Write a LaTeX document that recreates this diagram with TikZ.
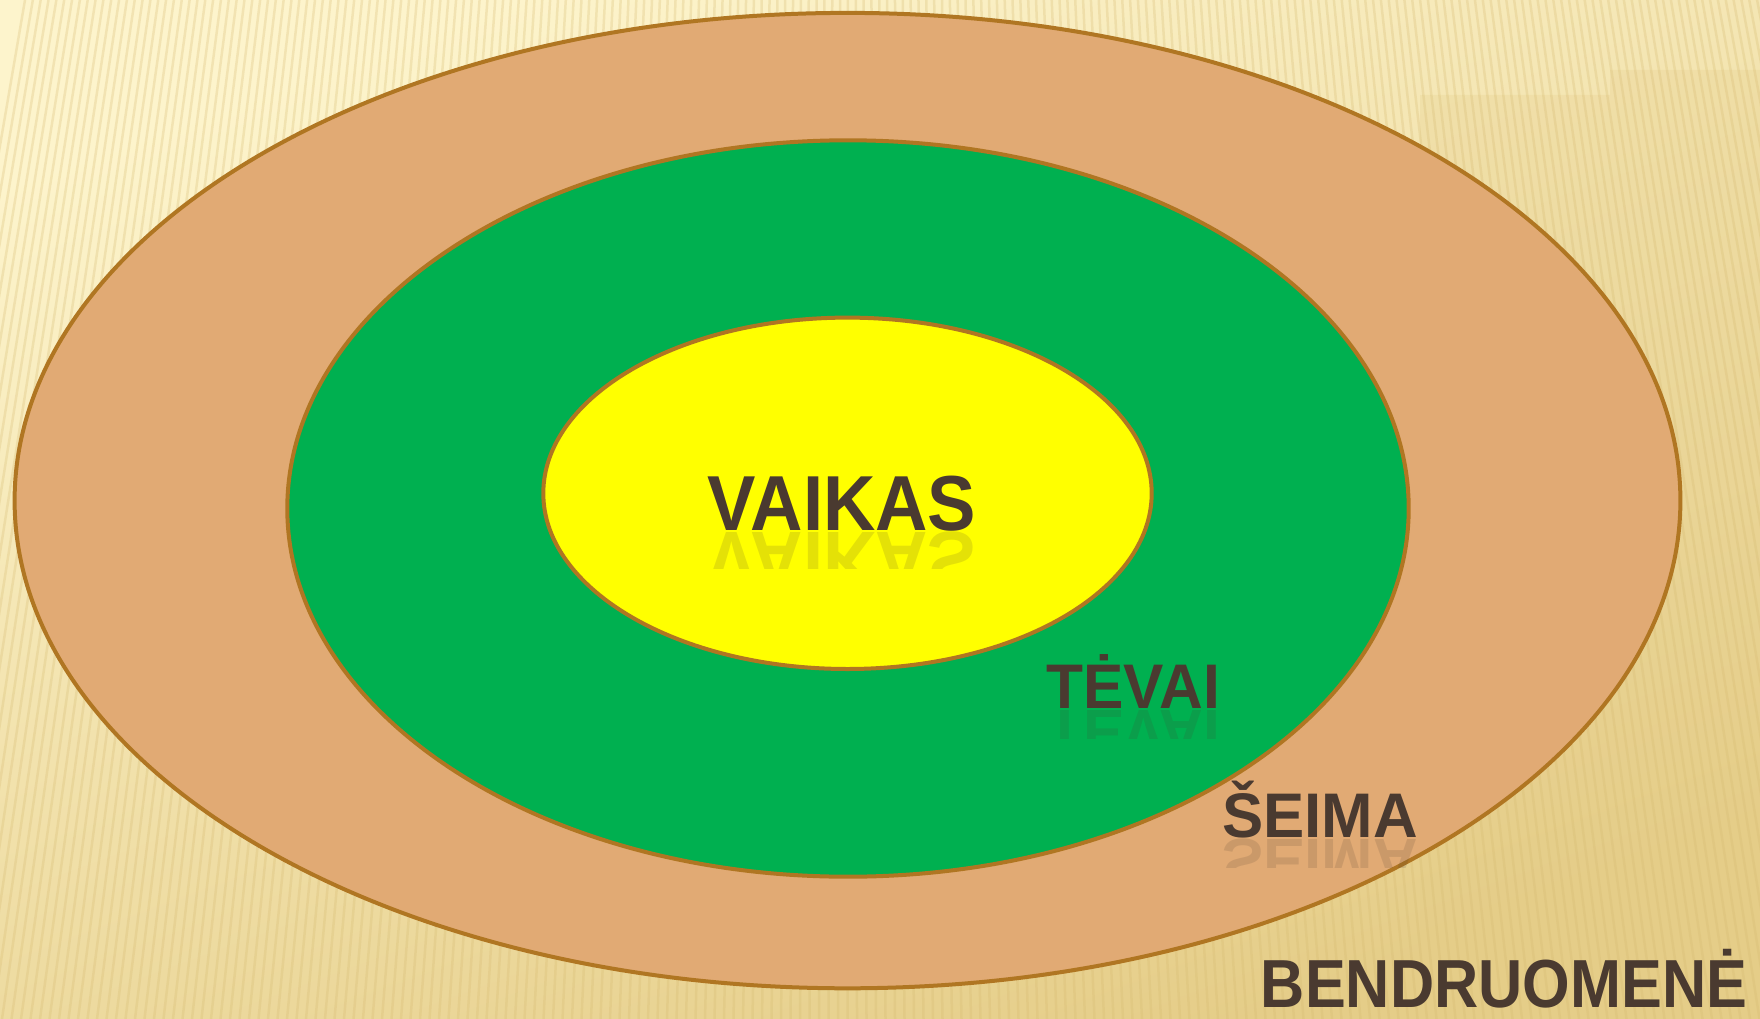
\documentclass[tikz,border=0pt]{standalone}
\usepackage{fontspec}
\newfontfamily\lblfont{Liberation Sans}
\usetikzlibrary{positioning}
\definecolor{ringline}{RGB}{176,118,34}
\definecolor{ringtan}{RGB}{225,170,116}
\definecolor{ringgreen}{RGB}{0,176,80}
\definecolor{ringyellow}{RGB}{255,255,0}
\definecolor{lbltext}{RGB}{74,58,48}
\definecolor{bgtop}{RGB}{253,244,204}
\definecolor{bgbot}{RGB}{229,205,136}
\definecolor{stripecol}{RGB}{214,186,112}

\begin{document}
\begin{tikzpicture}[x=1pt, y=-1pt,
    ring/.style={draw=ringline, line width=4pt},
    stripe/.style={draw=stripecol, line width=2.5pt, opacity=0.28},
    lbl/.style={text=lbltext, anchor=base, inner sep=0pt, transform shape},
    refl/.style={lbl, yscale=-1, opacity=0.15}]
  \useasboundingbox (0,0) rectangle (1760,1019);

  % background
  \shade[top color=bgtop, bottom color=bgbot, shading angle=20] (0,0) rectangle (1760,1019);
  \fill[bgbot, opacity=0.25] (1420,95) -- (1610,95) -- (1610,70) -- (1760,70) -- (1760,1019) -- (1420,1019) -- cycle;
  \foreach \i in {0,...,230}{
    \pgfmathsetmacro\xb{-150+9.5*\i}
    \pgfmathsetmacro\xt{\xb+(850-\xb)*0.175}
    \draw[stripe] (\xt,0) -- (\xb,1019);
  }

  % rings
  \filldraw[ring, fill=ringtan] (847.5,500.6) ellipse [x radius=832.9, y radius=487.7];
  \filldraw[ring, fill=ringgreen] (848,508.5) ellipse [x radius=560.7, y radius=368.2];
  \filldraw[ring, fill=ringyellow] (847.5,493.3) ellipse [x radius=304.2, y radius=175.7];

  % labels
  \node[lbl, xscale=0.93, font=\lblfont\bfseries\fontsize{78}{80}\selectfont] (vaikas) at (842,530) {VAIKAS};
  \node[lbl, xscale=0.96, font=\lblfont\bfseries\fontsize{63}{65}\selectfont] (tevai) at (1133,708) {TĖVAI};
  \node[lbl, xscale=0.98, font=\lblfont\bfseries\fontsize{63}{65}\selectfont] (seima) at (1320,837) {ŠEIMA};
  \node[lbl, xscale=0.90, font=\lblfont\bfseries\fontsize{68}{70}\selectfont] (bendr) at (1504,1007) {BENDRUOMENĖ};

  % reflections
  \begin{scope}
    \clip (690,531) rectangle (1000,568);
    \node[refl, xscale=0.93, font=\lblfont\bfseries\fontsize{78}{80}\selectfont] (vaikasR) at (842,532) {VAIKAS};
  \end{scope}
  \begin{scope}
    \clip (1030,709) rectangle (1240,738);
    \node[refl, xscale=0.96, font=\lblfont\bfseries\fontsize{63}{65}\selectfont] (tevaiR) at (1133,710) {TĖVAI};
  \end{scope}
  \begin{scope}
    \clip (1210,838) rectangle (1430,867);
    \node[refl, xscale=0.98, font=\lblfont\bfseries\fontsize{63}{65}\selectfont] (seimaR) at (1320,839) {ŠEIMA};
  \end{scope}
\end{tikzpicture}
\end{document}
